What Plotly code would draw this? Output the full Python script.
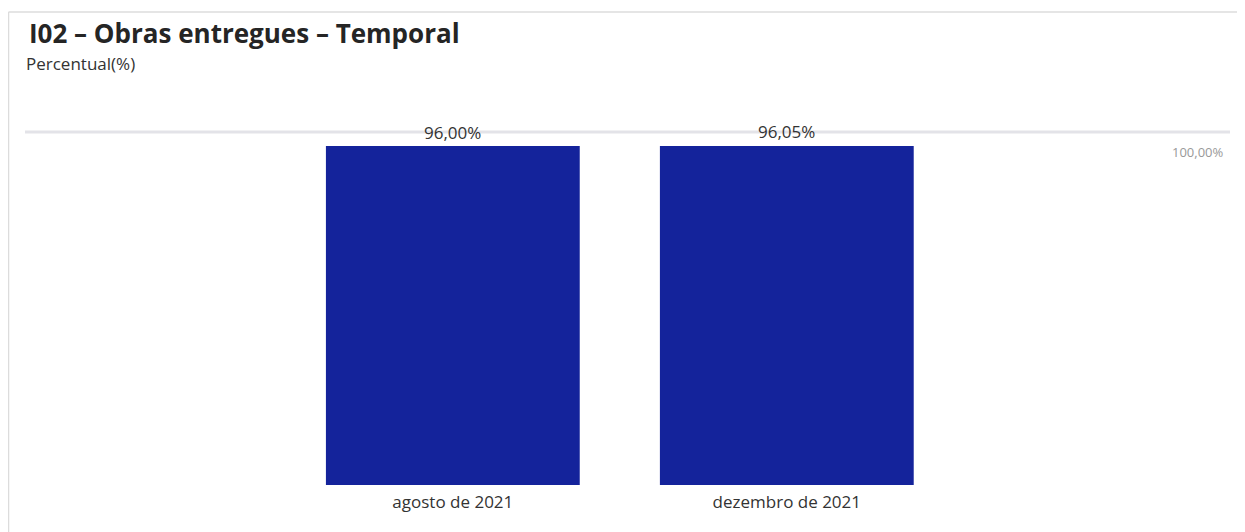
import plotly.graph_objects as go

categories = ["agosto de 2021", "dezembro de 2021"]
values = [96.00, 96.05]
labels = ["96,00%", "96,05%"]
reference_value = 100
reference_label = "100,00%"

# page body has an 8px margin; work in figure coordinates
OFF = 8
W, H = 1245 - OFF, 532 - OFF
L, R, T, B = 25 - OFF, 15, 120 - OFF, 47
pw = W - L - R
ph = H - T - B

def px(x):
    return (x - OFF - L) / pw

def py(y):
    return (H - B - (y - OFF)) / ph

fig = go.Figure()
fig.add_trace(go.Bar(
    x=categories, y=values, marker_color="#14239b", width=0.76,
    marker_line_width=0, hoverinfo="skip",
))

for c, v, t in zip(categories, values, labels):
    fig.add_annotation(x=c, y=v, text=t, showarrow=False, yshift=14,
                       font=dict(size=17, color="#333333"), yanchor="middle")

fig.add_shape(type="line", xref="paper", yref="y", x0=0, x1=1,
              y0=reference_value, y1=reference_value,
              line=dict(color="#e3e3e8", width=3), layer="below")
fig.add_annotation(xref="paper", yref="y", x=1, y=reference_value,
                   text=reference_label, showarrow=False, xanchor="right",
                   yanchor="top", yshift=-9, xshift=-4,
                   font=dict(size=13, color="#999999"))

# frame (top and left edges)
fig.add_shape(type="line", xref="paper", yref="paper",
              x0=px(8.5), x1=px(1260), y0=py(12), y1=py(12),
              line=dict(color="#dcdcdc", width=1.5), layer="below")
fig.add_shape(type="line", xref="paper", yref="paper",
              x0=px(8.5), x1=px(8.5), y0=py(12), y1=py(560),
              line=dict(color="#dcdcdc", width=1.5), layer="below")

fig.add_annotation(xref="paper", yref="paper", x=px(27), y=py(33),
                   text="<b>I02 – Obras entregues – Temporal</b>", showarrow=False,
                   xanchor="left", yanchor="middle",
                   font=dict(size=26, color="#252525"))
fig.add_annotation(xref="paper", yref="paper", x=px(24), y=py(64),
                   text="Percentual(%)", showarrow=False,
                   xanchor="left", yanchor="middle",
                   font=dict(size=17, color="#333333"))

fig.update_layout(
    width=W, height=H,
    margin=dict(l=L, r=R, t=T, b=B),
    paper_bgcolor="white", plot_bgcolor="white",
    font=dict(family="Open Sans", color="#333333"),
    showlegend=False,
    xaxis=dict(range=[-1.281, 2.327], showgrid=False, zeroline=False,
               showline=False, ticks="", ticklabelstandoff=5,
               tickfont=dict(size=17, color="#333333")),
    yaxis=dict(range=[0, (H - B - T) / 353 * 100], visible=False),
)
fig.write_html("out.html")
